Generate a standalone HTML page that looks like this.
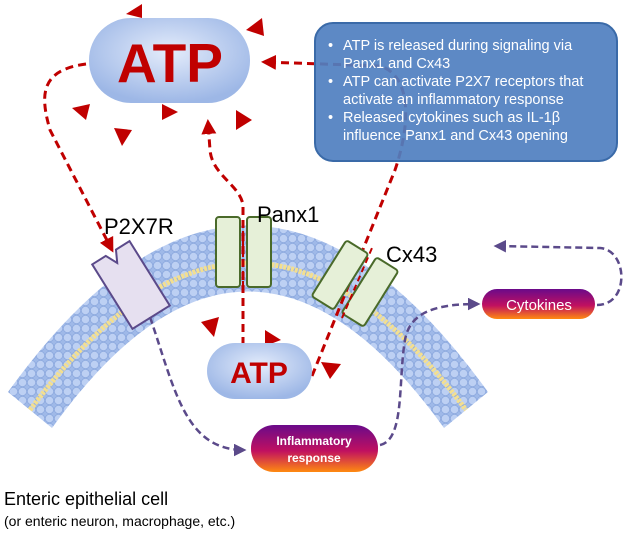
<!DOCTYPE html>
<html><head><meta charset="utf-8"><style>
body{margin:0;background:#fff;}
svg{display:block;font-family:"Liberation Sans",Arial,sans-serif;}
</style></head><body>
<svg width="630" height="538" viewBox="0 0 630 538">
<defs>
<radialGradient id="atp" cx="50%" cy="40%" r="60%">
<stop offset="0" stop-color="#e4ecfb"/><stop offset="1" stop-color="#9db7e6"/></radialGradient>
<linearGradient id="inf" x1="0" y1="0" x2="0" y2="1">
<stop offset="0" stop-color="#6a0a8a"/><stop offset="0.55" stop-color="#c01060"/><stop offset="1" stop-color="#ff8a10"/></linearGradient>
<pattern id="balls" width="9" height="9" patternUnits="userSpaceOnUse">
<rect width="9" height="9" fill="#9fb9e8"/><circle cx="4.5" cy="4.5" r="4.2" fill="#bdd0f3" stroke="#8eaadf" stroke-width="0.8"/></pattern>
<marker id="ar" viewBox="0 0 10 10" refX="8" refY="5" markerWidth="5" markerHeight="5" orient="auto"><path d="M0,0L10,5L0,10z" fill="#c00000"/></marker>
<marker id="ap" viewBox="0 0 10 10" refX="8" refY="5" markerWidth="5" markerHeight="5" orient="auto"><path d="M0,0L10,5L0,10z" fill="#5b4a8a"/></marker>
</defs>
<!-- membrane -->
<path d="M8,392 Q248,59 488,392 L444,428 Q248,155 52,428 Z" fill="url(#balls)"/>
<path d="M30,410 Q248,116 466,410" fill="none" stroke="#f3df90" stroke-width="5" stroke-dasharray="3 1"/>
<!-- big ATP -->
<rect x="89" y="18" width="161" height="85" rx="42" fill="url(#atp)"/>
<text x="170" y="82" font-size="55" font-weight="bold" fill="#c00000" text-anchor="middle">ATP</text>
<!-- triangles -->
<g fill="#c00000">
<path d="M126,14 L142,4 L142,18Z"/><path d="M246,30 L262,18 L264,36Z"/>
<path d="M72,108 L90,104 L86,120Z"/><path d="M114,128 L132,130 L122,146Z"/>
<path d="M162,104 L178,112 L162,120Z"/><path d="M236,110 L252,120 L236,130Z"/>
<path d="M201,322 L219,317 L214,337Z"/><path d="M265,330 L281,340 L265,346Z"/>
<path d="M321,362 L341,364 L330,379Z"/>
</g>
<!-- red dashes -->
<g fill="none" stroke="#c00000" stroke-width="3" stroke-dasharray="8 5">
<path d="M86,64 C40,70 40,95 50,130 L112,250" marker-end="url(#ar)"/>
<path d="M243,345 L243,205 C240,185 212,175 210,150 L208,122" marker-end="url(#ar)"/>
<path d="M312,376 L395,170 C412,120 410,75 380,66 L264,62" marker-end="url(#ar)"/>
</g>
<!-- info box -->
<rect x="315" y="23" width="302" height="138" rx="18" fill="#4f7fc0" fill-opacity="0.92" stroke="#3a6aa8" stroke-width="2"/>
<g fill="#fff" font-size="14.5">
<text x="328" y="50">•</text><text x="343" y="50">ATP is released during signaling via</text>
<text x="343" y="68">Panx1 and Cx43</text>
<text x="328" y="86">•</text><text x="343" y="86">ATP can activate P2X7 receptors that</text>
<text x="343" y="104">activate an inflammatory response</text>
<text x="328" y="122">•</text><text x="343" y="122">Released cytokines such as IL-1β</text>
<text x="343" y="140">influence Panx1 and Cx43 opening</text>
</g>
<!-- P2X7R -->
<g transform="translate(131,285) rotate(-32)">
<path d="M-22,-38 L-6,-38 L0,-26 L6,-38 L22,-38 L22,38 L-22,38Z" fill="#e6e0f0" stroke="#5b4a8a" stroke-width="2"/>
</g>
<text x="104" y="234" font-size="22">P2X7R</text>
<!-- Panx1 -->
<rect x="216" y="217" width="24" height="70" rx="3" fill="#e6f0d8" stroke="#4a6a2a" stroke-width="2"/>
<rect x="247" y="217" width="24" height="70" rx="3" fill="#e6f0d8" stroke="#4a6a2a" stroke-width="2"/>
<line x1="243" y1="287" x2="243" y2="217" stroke="#c00000" stroke-width="2" stroke-dasharray="6 4"/>
<text x="257" y="222" font-size="22">Panx1</text>
<!-- Cx43 -->
<g transform="translate(340,275) rotate(32)"><rect x="-13" y="-33" width="26" height="66" rx="3" fill="#e6f0d8" stroke="#4a6a2a" stroke-width="2"/></g>
<g transform="translate(370,292) rotate(32)"><rect x="-13" y="-33" width="26" height="66" rx="3" fill="#e6f0d8" stroke="#4a6a2a" stroke-width="2"/></g>
<line x1="342" y1="318" x2="372" y2="248" stroke="#c00000" stroke-width="2" stroke-dasharray="6 4"/>
<text x="386" y="262" font-size="22">Cx43</text>
<!-- small ATP -->
<rect x="207" y="343" width="105" height="56" rx="28" fill="url(#atp)"/>
<text x="259" y="383" font-size="30" font-weight="bold" fill="#c00000" text-anchor="middle">ATP</text>
<!-- purple dashes -->
<g fill="none" stroke="#5b4a8a" stroke-width="2.5" stroke-dasharray="7 4">
<path d="M150,317 C175,390 185,450 244,450" marker-end="url(#ap)"/>
<path d="M380,445 C405,440 398,380 405,340 C410,310 440,304 478,304" marker-end="url(#ap)"/>
<path d="M597,305 C630,305 628,250 600,248 L496,246" marker-end="url(#ap)"/>
</g>
<!-- pills -->
<rect x="482" y="289" width="113" height="30" rx="15" fill="url(#inf)"/>
<text x="539" y="310" font-size="15" fill="#fff" text-anchor="middle">Cytokines</text>
<rect x="251" y="425" width="127" height="47" rx="23" fill="url(#inf)"/>
<text x="314" y="445" font-size="12" font-weight="bold" fill="#fff" text-anchor="middle">Inflammatory</text>
<text x="314" y="462" font-size="12" font-weight="bold" fill="#fff" text-anchor="middle">response</text>
<!-- caption -->
<text x="4" y="505" font-size="18">Enteric epithelial cell</text>
<text x="4" y="526" font-size="14">(or enteric neuron, macrophage, etc.)</text>
</svg>
</body></html>
